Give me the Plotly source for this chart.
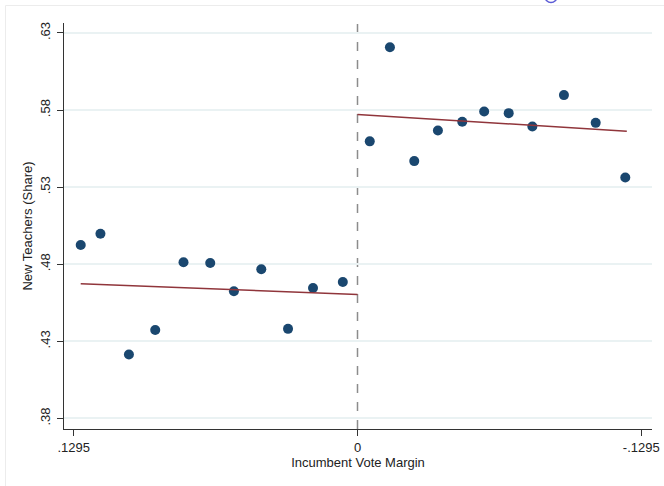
import plotly.graph_objects as go

# Binned means of new-teacher share by incumbent vote margin
left_x = [0.1263, 0.1173, 0.1043, 0.0923, 0.0794, 0.0672, 0.0564, 0.0439, 0.0317, 0.0203, 0.0067]
left_y = [0.4925, 0.4998, 0.4215, 0.4374, 0.4813, 0.4808, 0.4625, 0.4768, 0.4381, 0.4646, 0.4685]
right_x = [-0.0056, -0.0148, -0.0259, -0.0367, -0.0478, -0.0578, -0.0690, -0.0798, -0.0942, -0.1087, -0.1222]
right_y = [0.5597, 0.6207, 0.5469, 0.5668, 0.5724, 0.5791, 0.5780, 0.5694, 0.5897, 0.5717, 0.5363]

# Linear fits on each side of the cutoff (endpoints)
fit_left_x = [0.1263, 0.0]
fit_left_y = [0.4674, 0.4603]
fit_right_x = [0.0, -0.1229]
fit_right_y = [0.5772, 0.5663]

x_ticks = [0.1295, 0.0, -0.1295]
x_tick_labels = [".1295", "0", "-.1295"]
y_ticks = [0.38, 0.43, 0.48, 0.53, 0.58, 0.63]
y_tick_labels = [".38", ".43", ".48", ".53", ".58", ".63"]

navy = "#1a476f"
maroon = "#90353b"
font_family = "Liberation Sans, Arial, sans-serif"

# Plot-area geometry in pixels (used for paper-referenced decorations)
W, H = 664, 486
ML, MR, MT, MB = 64, 12, 23, 57
PW, PH = W - ML - MR, H - MT - MB


def px_x(p):
    return (p - ML) / PW


def px_y(p):
    return (H - MB - p) / PH


fig = go.Figure()
for xs, ys in [(left_x, left_y), (right_x, right_y)]:
    fig.add_trace(go.Scatter(
        x=xs, y=ys, mode="markers",
        marker=dict(size=10, color=navy, line=dict(width=0)),
        showlegend=False, hoverinfo="skip",
    ))
for xs, ys in [(fit_left_x, fit_left_y), (fit_right_x, fit_right_y)]:
    fig.add_trace(go.Scatter(
        x=xs, y=ys, mode="lines",
        line=dict(color=maroon, width=1.5),
        showlegend=False, hoverinfo="skip",
    ))

# Cutoff line
fig.add_shape(type="line", xref="x", yref="paper", x0=0, x1=0, y0=0, y1=1,
              line=dict(color="#8c8c8c", width=1.5, dash="dash"), layer="below")

# Outer graph region frame
fig.add_shape(type="rect", xref="paper", yref="paper",
              x0=px_x(5.5), x1=px_x(700), y0=px_y(520), y1=px_y(5.5),
              line=dict(color="#ececec", width=1), layer="below")

# Small ring at the top edge
fig.add_shape(type="circle", xref="paper", yref="paper",
              x0=px_x(545), x1=px_x(557), y0=px_y(2.5), y1=px_y(-9.5),
              line=dict(color="#5b5bd6", width=1.5))

fig.update_layout(
    width=W, height=H,
    margin=dict(l=ML, r=MR, t=MT, b=MB, autoexpand=False),
    paper_bgcolor="white", plot_bgcolor="white",
    font=dict(family=font_family, size=13, color="#222222"),
    xaxis=dict(
        range=[0.13393, -0.13439],
        tickvals=x_ticks, ticktext=x_tick_labels,
        automargin=False,
        showgrid=False, zeroline=False,
        showline=True, linecolor="#333333", linewidth=1,
        ticks="outside", ticklen=6, tickcolor="#333333",
        tickfont=dict(size=13),
        title=dict(text="Incumbent Vote Margin", font=dict(size=13), standoff=4),
    ),
    yaxis=dict(
        range=[0.37313, 0.63648],
        tickvals=y_ticks, ticktext=y_tick_labels,
        tickangle=-90,
        automargin=False,
        showgrid=True, gridcolor="#eaf2f3", gridwidth=1.5,
        zeroline=False,
        showline=True, linecolor="#333333", linewidth=1,
        ticks="outside", ticklen=6, tickcolor="#333333",
        tickfont=dict(size=13),
        ticklabelstandoff=2,
        title=dict(text="New Teachers (Share)", font=dict(size=13), standoff=2),
    ),
)

fig.write_html("out.html")
